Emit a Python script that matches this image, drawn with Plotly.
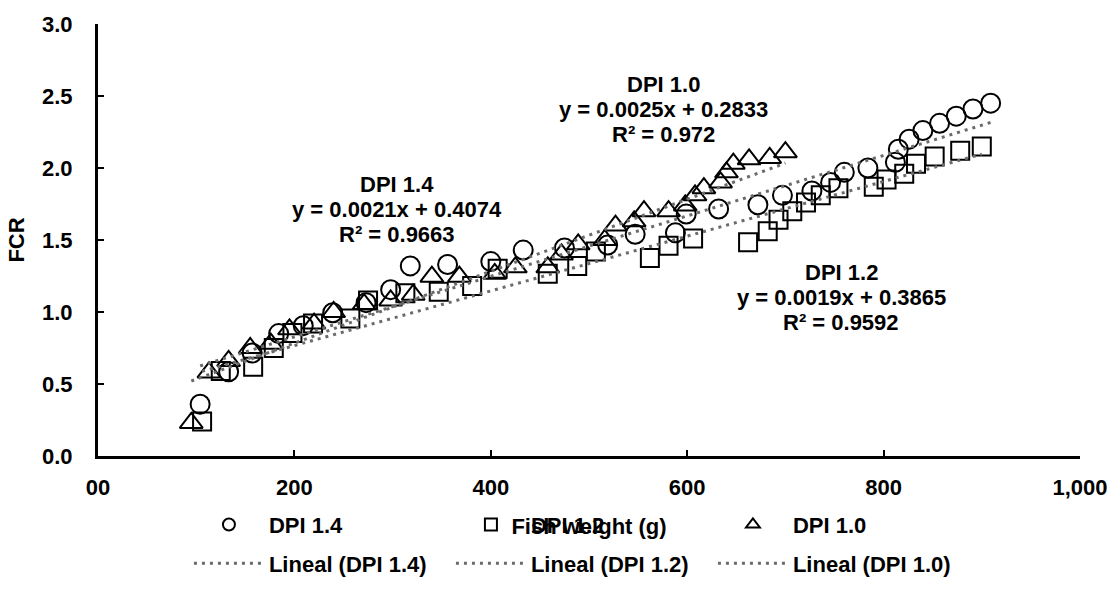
import plotly.graph_objects as go

# ---------------- data ----------------
x_dpi14 = [104, 133, 157, 184, 209, 239, 273, 298, 318, 356, 400, 433, 475, 519,
           547, 588, 599, 632, 672, 697, 727, 746, 760, 784, 812, 815, 826, 840,
           857, 874, 891, 909]
fcr_dpi14 = [0.36, 0.585, 0.715, 0.85, 0.905, 0.995, 1.065, 1.155, 1.32, 1.33, 1.35,
             1.43, 1.445, 1.465, 1.54, 1.55, 1.68, 1.715, 1.745, 1.81, 1.84, 1.90,
             1.97, 2.00, 2.04, 2.13, 2.20, 2.26, 2.31, 2.36, 2.41, 2.45]

x_dpi12 = [106, 125, 158, 179, 198, 219, 257, 275, 313, 347, 381, 407, 458, 488,
           507, 562, 581, 606, 662, 682, 693, 707, 721, 736, 754, 790, 803, 821,
           833, 852, 878, 900]
fcr_dpi12 = [0.24, 0.59, 0.62, 0.75, 0.855, 0.92, 0.955, 1.08, 1.13, 1.14, 1.18,
             1.30, 1.265, 1.32, 1.42, 1.375, 1.46, 1.51, 1.485, 1.56, 1.64, 1.70,
             1.76, 1.81, 1.86, 1.87, 1.92, 1.96, 2.03, 2.08, 2.12, 2.15]

x_dpi10 = [95, 113, 133, 155, 176, 195, 220, 240, 271, 298, 321, 340, 368, 404,
           425, 458, 472, 489, 516, 527, 546, 556, 581, 598, 608, 617, 634, 640,
           647, 663, 684, 700]
fcr_dpi10 = [0.23, 0.58, 0.66, 0.75, 0.78, 0.88, 0.92, 1.00, 1.055, 1.08, 1.12,
             1.245, 1.245, 1.265, 1.31, 1.31, 1.40, 1.47, 1.50, 1.60, 1.63, 1.70,
             1.70, 1.74, 1.81, 1.86, 1.90, 1.97, 2.03, 2.06, 2.07, 2.11]

series_names = ["DPI 1.4", "DPI 1.2", "DPI 1.0"]
trend_names = ["Lineal (DPI 1.4)", "Lineal (DPI 1.2)", "Lineal (DPI 1.0)"]
trend_slopes = [0.0021, 0.0019, 0.0025]
trend_intercepts = [0.4074, 0.3865, 0.2833]
trend_r2 = ["0.9663", "0.9592", "0.972"]
trend_eq = ["y = 0.0021x + 0.4074", "y = 0.0019x + 0.3865", "y = 0.0025x + 0.2833"]

x_tickvals = [0, 200, 400, 600, 800, 1000]
x_ticktext = ["00", "200", "400", "600", "800", "1,000"]
y_tickvals = [0.0, 0.5, 1.0, 1.5, 2.0, 2.5, 3.0]

# label anchor positions (data units)
label_x = [304, 757, 576]
label_y_top = [1.884, 1.272, 2.577]

# ---------------- figure ----------------
FONT = "Liberation Sans, Arial, sans-serif"
fig = go.Figure()

xs = [x_dpi14, x_dpi12, x_dpi10]
ys = [fcr_dpi14, fcr_dpi12, fcr_dpi10]
symbols = ["circle-open", "square-open", "triangle-up-open"]
sizes = [19, 18, 20]

for i in range(3):
    fig.add_trace(go.Scatter(
        x=xs[i], y=ys[i], mode="markers", name=series_names[i],
        marker=dict(symbol=symbols[i], size=sizes[i], color="black",
                    line=dict(width=2, color="black")),
        legend="legend"))

for i in range(3):
    x0, x1 = min(xs[i]), max(xs[i])
    fig.add_trace(go.Scatter(
        x=[x0, x1],
        y=[trend_slopes[i] * x0 + trend_intercepts[i], trend_slopes[i] * x1 + trend_intercepts[i]],
        mode="lines", name=trend_names[i],
        line=dict(color="#6b6b6b", width=3, dash="3px,5px"),
        legend="legend2"))

annotations = []
for i in range(3):
    lines = [series_names[i], trend_eq[i], "R² = " + trend_r2[i]]
    for k, t in enumerate(lines):
        annotations.append(dict(
            x=label_x[i], y=label_y_top[i], xref="x", yref="y",
            text=t, showarrow=False, xanchor="center", yanchor="middle",
            yshift=-25 * k,
            font=dict(family=FONT, size=22, color="black", weight="bold")))

fig.update_layout(
    width=1120, height=596,
    margin=dict(l=98, r=29, t=24, b=126),
    paper_bgcolor="white", plot_bgcolor="white",
    font=dict(family=FONT, size=22, color="black", weight="bold"),
    annotations=annotations,
    legend=dict(orientation="h", x=0.0926, xanchor="left", y=-0.159, yanchor="middle",
                itemwidth=70, entrywidth=177, itemsizing="constant",
                font=dict(family=FONT, size=22, color="black", weight="bold"),
                bgcolor="rgba(0,0,0,0)"),
    legend2=dict(orientation="h", x=0.0926, xanchor="left", y=-0.249, yanchor="middle",
                 itemwidth=70, entrywidth=177,
                 font=dict(family=FONT, size=22, color="black", weight="bold"),
                 bgcolor="rgba(0,0,0,0)"),
    showlegend=True,
)

fig.update_xaxes(
    range=[0, 1000], tickvals=x_tickvals, ticktext=x_ticktext,
    showline=True, linecolor="black", linewidth=3,
    ticks="inside", ticklen=6, tickwidth=2, tickcolor="black",
    showgrid=False, zeroline=False, ticklabelstandoff=10,
    tickfont=dict(family=FONT, size=22, color="black", weight="bold"),
    title=dict(text="Fish weight (g)", standoff=20,
               font=dict(family=FONT, size=22, color="black", weight="bold")))

fig.update_yaxes(
    range=[0, 3], tickvals=y_tickvals, tickformat=".1f",
    showline=True, linecolor="black", linewidth=3,
    ticks="inside", ticklen=6, tickwidth=2, tickcolor="black",
    showgrid=False, zeroline=False, ticklabelstandoff=18,
    tickfont=dict(family=FONT, size=22, color="black", weight="bold"),
    title=dict(text="FCR", standoff=12,
               font=dict(family=FONT, size=22, color="black", weight="bold")))

fig.write_html("out.html")
